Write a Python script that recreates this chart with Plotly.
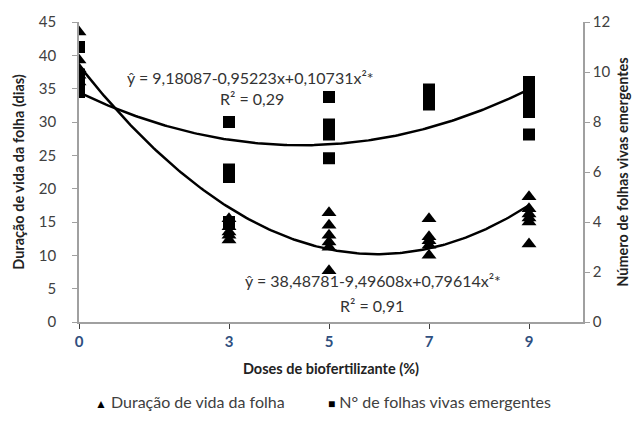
import numpy as np
import plotly.graph_objects as go

# Duração de vida da folha (left axis), triangles
dur_x = [0, 0, 0, 0, 0,
         3, 3, 3, 3, 3,
         5, 5, 5, 5, 5, 5,
         7, 7, 7, 7, 7,
         9, 9, 9, 9, 9, 9]
dur_y = [43.5, 39.3, 38.0, 37.0, 36.0,
         15.5, 14.3, 13.5, 13.0, 12.3,
         16.4, 14.5, 13.0, 12.0, 11.2, 7.7,
         15.5, 12.8, 12.2, 11.5, 10.0,
         18.8, 17.0, 16.2, 15.6, 15.0, 11.7]

# Nº de folhas vivas emergentes (right axis), squares
num_x = [0, 0, 0, 0, 0, 0,
         3, 3, 3, 3, 3,
         5, 5, 5, 5, 5,
         7, 7, 7, 7,
         9, 9, 9, 9, 9, 9]
num_y = [11.0, 9.9, 9.6, 9.4, 9.3, 9.2,
         8.0, 6.1, 5.95, 5.8, 4.0,
         9.0, 7.9, 7.6, 7.5, 6.55,
         9.3, 9.1, 8.9, 8.7,
         9.6, 9.3, 9.0, 8.7, 8.4, 7.5]

# Regression coefficients shown on the chart
dur_coef = [38.48781, -9.49608, 0.79614]
num_coef = [9.18087, -0.95223, 0.10731]

x_ticks = [0, 3, 5, 7, 9]
left_ticks = [0, 5, 10, 15, 20, 25, 30, 35, 40, 45]
right_ticks = [0, 2, 4, 6, 8, 10, 12]

series_names = ["Duração de vida da folha", "N° de folhas vivas emergentes"]

FONT = "Lato"
xs = np.linspace(0, 9, 200)
dur_fit = dur_coef[0] + dur_coef[1] * xs + dur_coef[2] * xs ** 2
num_fit = num_coef[0] + num_coef[1] * xs + num_coef[2] * xs ** 2

fig = go.Figure()
fig.add_trace(go.Scatter(x=xs, y=dur_fit, mode="lines", line=dict(color="black", width=2.5),
                         showlegend=False, hoverinfo="skip"))
fig.add_trace(go.Scatter(x=xs, y=num_fit, mode="lines", line=dict(color="black", width=2.5),
                         showlegend=False, hoverinfo="skip", yaxis="y2"))
fig.add_trace(go.Scatter(x=dur_x, y=dur_y, mode="markers", name=series_names[0],
                         marker=dict(symbol="triangle-up", size=13, color="black"), showlegend=False))
fig.add_trace(go.Scatter(x=num_x, y=num_y, mode="markers", name=series_names[1],
                         marker=dict(symbol="square", size=12, color="black"), yaxis="y2",
                         showlegend=False))

fig.update_layout(
    width=644, height=421,
    margin=dict(l=79, r=61, t=20, b=99),
    paper_bgcolor="white", plot_bgcolor="white",
    font=dict(family=FONT, size=13, color="#404040"),
    xaxis=dict(range=[0, 10.08], tickvals=x_ticks, showgrid=False, zeroline=False,
               showline=True, linecolor="#A0A0A0", linewidth=1.5,
               ticks="outside", ticklen=5, tickcolor="#404040",
               tickfont=dict(family=FONT, size=15, color="#2F4F7F", weight="bold"),
               title=dict(text="<b>Doses de biofertilizante (%)</b>",
                          font=dict(family=FONT, size=14.5, color="#222222"), standoff=15)),
    yaxis=dict(range=[0, 45], tickvals=left_ticks, showgrid=False, zeroline=False,
               showline=True, linecolor="#A0A0A0", linewidth=1.5,
               ticks="outside", ticklen=5, tickcolor="#A0A0A0", ticklabelstandoff=13,
               tickfont=dict(family=FONT, size=15, color="#404040"),
               title=dict(text="<b>Duração de vida da folha (dias)</b>",
                          font=dict(family=FONT, size=14.5, color="#222222"), standoff=11)),
    yaxis2=dict(range=[0, 12], tickvals=right_ticks, overlaying="y", side="right",
                showgrid=False, zeroline=False, showline=True, linecolor="#A0A0A0", linewidth=1.5,
                ticks="outside", ticklen=5, tickcolor="#A0A0A0",
                tickfont=dict(family=FONT, size=15, color="#404040"),
                title=dict(text="<b>Número de folhas vivas emergentes</b>",
                           font=dict(family=FONT, size=14.5, color="#222222"), standoff=8)),
    showlegend=False,
)

ann_font = dict(family=FONT, size=16, color="#333333")
annotations = [
    dict(x=3.42, y=36.65, text="ŷ = 9,18087-0,95223x+0,10731x²*"),
    dict(x=3.46, y=33.5, text="R² = 0,29"),
    dict(x=5.88, y=6.26, text="ŷ = 38,48781-9,49608x+0,79614x²*"),
    dict(x=5.86, y=2.53, text="R² = 0,91"),
]
for a in annotations:
    fig.add_annotation(xref="x", yref="y", showarrow=False, font=ann_font, **a)

# legend drawn as text entries below the chart
leg_font = dict(family=FONT, size=16, color="#404040")
leg_y = -(402 - 322) / 302
fig.add_annotation(xref="paper", yref="paper", x=(93 - 79) / 504, y=leg_y,
                   xanchor="left", yanchor="middle", showarrow=False, font=leg_font,
                   text="<span style='font-size:12px;color:black'>▲</span> " + series_names[0])
fig.add_annotation(xref="paper", yref="paper", x=(326 - 79) / 504, y=leg_y,
                   xanchor="left", yanchor="middle", showarrow=False, font=leg_font,
                   text="<span style='font-size:12px;color:black'>■</span> " + series_names[1])

fig.write_html("out.html", config={"displayModeBar": False},
               post_script="document.body.style.margin='0';document.body.style.overflow='hidden';")
